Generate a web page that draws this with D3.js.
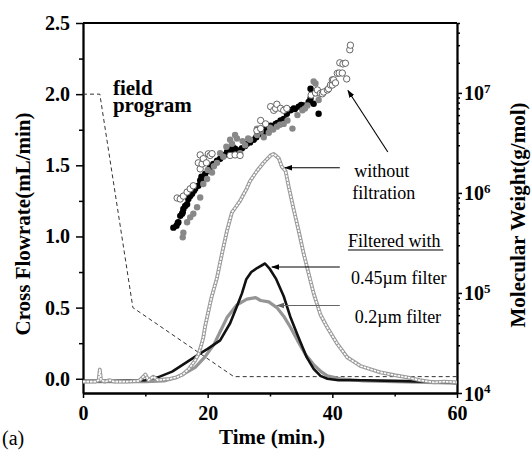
<!DOCTYPE html>
<html lang="en">
<head>
<meta charset="utf-8"/>
<script src="https://cdn.jsdelivr.net/npm/d3@7"></script>
<style>
  body { margin: 0; background: #fff; }
  svg text { font-family: "Liberation Serif", "Times New Roman", Times, serif; fill: #000; }
</style>
</head>
<body>
<svg id="chart" width="531" height="450"></svg>
<script>
// ---- data ----
const flowTicks = [0, 0.5, 1.0, 1.5, 2.0, 2.5];
const flowMinor = [0.25, 0.75, 1.25, 1.75, 2.25];
const timeTicks = [0, 20, 40, 60];
const timeMinor = [10, 30, 50];
const mwTicks = [1e4, 1e5, 1e6, 1e7];
const mwExp = ["4", "5", "6", "7"];

// field program (cross flow, dashed)
const fieldTime = [0, 2.7, 8, 24.2, 60];
const fieldFlow = [2.0, 2.0, 0.5, 0.015, 0.015];

// fractogram without filtration (open circle trace)
const rawTime = [0, 1, 2, 2.5, 2.7, 2.9, 3.5, 4.3, 5, 7, 9, 10, 10.5, 11.3, 12, 13, 14, 15, 16, 16.5, 17, 17.5, 18, 18.5, 19, 19.3, 19.6, 20, 20.6, 21.5, 22.3, 23.1, 23.9, 24.4, 25.2, 26.3, 26.8, 27.9, 29, 30.1, 30.6, 31.4, 31.9, 32.5, 33, 33.8, 34.6, 35.4, 36.2, 37, 38.1, 39.2, 40.8, 42.4, 44.5, 47.7, 50, 52, 54, 56.3, 58, 60];
const rawSignal = [-0.02, -0.02, -0.02, -0.01, 0.065, -0.01, -0.02, -0.01, -0.02, -0.02, -0.015, 0.03, -0.01, 0.015, -0.01, -0.005, 0.0, 0.01, 0.03, 0.05, 0.07, 0.1, 0.13, 0.17, 0.24, 0.29, 0.37, 0.45, 0.57, 0.71, 0.88, 1.04, 1.17, 1.2, 1.25, 1.34, 1.39, 1.46, 1.52, 1.57, 1.58, 1.55, 1.49, 1.46, 1.35, 1.19, 1.04, 0.88, 0.74, 0.6, 0.45, 0.36, 0.245, 0.15, 0.09, 0.045, 0.025, 0.01, -0.01, -0.025, -0.02, -0.025];

// 0.45 um filter (black line)
const f45Time = [0, 5, 10, 12, 14.3, 16.4, 18.5, 20, 22, 23.6, 24.7, 25.5, 26.2, 27, 28, 29.2, 30, 31, 32.2, 33.3, 34.4, 35.9, 37, 38.1, 39.2, 41, 45, 50, 55, 60];
const f45Signal = [-0.015, -0.015, -0.01, 0.01, 0.05, 0.11, 0.17, 0.21, 0.27, 0.39, 0.51, 0.6, 0.7, 0.75, 0.78, 0.81, 0.77, 0.7, 0.58, 0.43, 0.31, 0.15, 0.07, 0.02, 0.0, -0.01, -0.01, -0.015, -0.02, -0.03];

// 0.2 um filter (gray line)
const f02Time = [0, 5, 10, 13, 15, 16.4, 18, 19.5, 21, 22, 23.1, 24.7, 26.3, 27.7, 28.5, 29.8, 31.1, 32.2, 33.3, 34.4, 35.7, 37, 38.2, 39.2, 41.3, 45, 50, 55, 60];
const f02Signal = [-0.02, -0.02, -0.02, -0.015, 0.01, 0.04, 0.08, 0.15, 0.24, 0.33, 0.43, 0.52, 0.56, 0.57, 0.55, 0.54, 0.5, 0.44, 0.36, 0.27, 0.17, 0.1, 0.05, 0.02, 0.0, -0.015, -0.02, -0.025, -0.03];

// molecular weight points [time, g/mol]
const mwRaw = [[15.1,8.9e5],[15.6,8.7e5],[16.1,9.3e5],[16.7,1.02e6],[17.2,1.1e6],[17.7,1.18e6],[18.5,2.0e6],[18.8,1.74e6],[18.8,2.4e6],[19.1,1.95e6],[19.3,2.2e6],[19.8,2.0e6],[20.1,2.46e6],[20.4,2.37e6],[20.7,2.47e6],[23.6,2.37e6],[24.4,2.4e6],[25.2,2.37e6],[27.9,4.2e6],[28.5,4.4e6],[28.5,5.3e6],[29.3,4.9e6],[30.1,7.3e6],[30.6,6.7e6],[30.9,7.0e6],[31.1,7.7e6],[31.7,7.0e6],[32.2,6.7e6],[32.7,7.0e6],[36.6,9.5e6],[37.3,1.0e7],[37.6,1.07e7],[38.1,9.9e6],[38.4,9.8e6],[38.6,1.02e7],[39.2,1.07e7],[39.4,1.1e7],[39.7,1.2e7],[40.0,1.2e7],[40.0,1.35e7],[40.2,1.35e7],[40.5,1.26e7],[40.8,1.57e7],[41.1,1.58e7],[41.2,2.0e7],[41.6,1.58e7],[41.7,1.95e7],[42.3,1.38e7],[42.1,1.98e7],[42.8,2.7e7],[42.9,3.0e7]];
const mw45 = [[14.5,4.5e5],[15.0,4.7e5],[15.2,5.0e5],[15.3,5.1e5],[15.6,5.9e5],[15.9,6.2e5],[16.0,6.4e5],[16.1,6.9e5],[16.4,7.4e5],[16.7,7.7e5],[16.9,8.7e5],[17.2,9.3e5],[17.5,9.8e5],[17.8,1.05e6],[18.0,1.1e6],[18.5,1.18e6],[18.8,1.33e6],[19.0,1.45e6],[19.2,1.38e6],[19.6,1.55e6],[20.1,1.67e6],[20.4,1.81e6],[20.9,1.95e6],[21.0,1.9e6],[21.5,2.1e6],[22.0,2.2e6],[22.3,2.4e6],[22.6,2.37e6],[23.1,2.57e6],[23.9,2.7e6],[24.0,2.9e6],[24.4,2.77e6],[25.0,2.66e6],[25.5,2.8e6],[26.0,2.95e6],[26.3,3.1e6],[26.8,3.2e6],[27.4,3.4e6],[27.8,3.6e6],[28.5,3.9e6],[28.9,4.0e6],[29.3,4.3e6],[29.8,4.4e6],[30.1,4.7e6],[30.9,4.9e6],[31.2,5.0e6],[31.7,5.3e6],[32.2,5.5e6],[32.7,6.2e6],[33.3,6.7e6],[33.8,7.0e6],[34.0,6.9e6],[34.6,7.3e6],[35.0,7.6e6],[35.4,7.5e6],[36.2,8.1e6],[36.5,8.8e6],[36.8,9.9e6],[36.5,1.1e7],[37.0,7.8e6],[37.8,6.2e6]];
const mw02 = [[16.0,3.6e5],[16.1,4.0e5],[16.7,5.1e5],[17.2,5.7e5],[17.7,6.2e5],[18.3,7.2e5],[18.8,9.0e5],[19.3,1.23e6],[19.9,1.38e6],[20.0,1.7e6],[20.7,1.6e6],[21.0,1.85e6],[21.5,2.0e6],[22.0,2.5e6],[22.5,2.3e6],[23.0,2.9e6],[23.6,3.4e6],[23.9,3.1e6],[24.4,3.8e6],[24.7,3.5e6],[25.2,2.5e6],[25.6,3.3e6],[26.0,3.0e6],[26.5,3.5e6],[26.8,3.4e6],[27.9,3.8e6],[27.9,4.4e6],[28.5,4.1e6],[29.0,3.6e6],[29.8,4.0e6],[30.0,4.5e6],[30.5,4.3e6],[31.1,4.6e6],[31.6,4.8e6],[32.2,4.9e6],[32.8,5.3e6],[33.6,4.4e6],[34.4,6.0e6],[35.2,6.7e6],[35.6,7.0e6],[36.0,7.5e6],[37.0,1.3e7],[37.3,1.24e7],[37.6,9.9e6],[37.8,8.5e6]];

// annotations, in (time, flow) units
const arrows = [
  {from: [41.2, 1.483], to: [32.4, 1.483], color: "#000"},
  {from: [48.9, 1.594], to: [42.5, 2.026], color: "#000"},
  {from: [41.2, 0.785], to: [30.3, 0.785], color: "#000"},
  {from: [41.2, 0.515], to: [31.1, 0.515], color: "#666"}
];
const notes = [
  {t: 43.5, v: 1.421, text: "without"},
  {t: 43.2, v: 1.263, text: "filtration"},
  {t: 42.5, v: 0.926, text: "Filtered with", underline: 57.8},
  {t: 43.0, v: 0.666, text: "0.45\u00b5m filter"},
  {t: 43.6, v: 0.392, text: "0.2\u00b5m filter"}
];

// ---- chart ----
const svg = d3.select("#chart");

const x = d3.scaleLinear().domain([0, 60]).range([83, 457]);
const y = d3.scaleLinear().domain([-0.1, 2.5]).range([393, 23]);
const yMW = d3.scaleLog().domain([1e4, 5e7]).range([393, 23]);

const zip = (a, b) => a.map((d, i) => [d, b[i]]);
const line = d3.line().x(d => x(d[0])).y(d => y(d[1]));

function styleAxis(g) {
  g.attr("font-family", "Liberation Serif, Times, serif").attr("font-size", 20).attr("font-weight", "bold");
  g.select(".domain").attr("stroke-width", 1.8);
  g.selectAll(".tick line").attr("stroke-width", 1.5);
}

// axes
svg.append("g").attr("transform", "translate(83,0)")
  .call(d3.axisLeft(y).tickValues(flowTicks).tickFormat(d3.format(".1f")).tickSize(7).tickPadding(6).tickSizeOuter(0))
  .call(styleAxis);
svg.append("g").attr("transform", "translate(83,0)")
  .call(d3.axisLeft(y).tickValues(flowMinor).tickFormat("").tickSize(4).tickSizeOuter(0))
  .call(styleAxis);

svg.append("g").attr("transform", "translate(0,393)")
  .call(d3.axisBottom(x).tickValues(timeTicks).tickSize(5).tickPadding(8).tickSizeOuter(0))
  .call(styleAxis);
svg.append("g").attr("transform", "translate(0,393)")
  .call(d3.axisBottom(x).tickValues(timeMinor).tickFormat("").tickSize(3.5).tickSizeOuter(0))
  .call(styleAxis);

const mwMinor = mwTicks.flatMap(d => [2, 3, 4, 5, 6, 7, 8, 9].map(k => k * d)).filter(v => v <= 5e7);
const rAxis = svg.append("g").attr("transform", "translate(457,0)")
  .call(d3.axisRight(yMW).tickValues(mwTicks).tickFormat("").tickSize(5).tickSizeOuter(0))
  .call(styleAxis);
svg.append("g").attr("transform", "translate(457,0)")
  .call(d3.axisRight(yMW).tickValues(mwMinor).tickFormat("").tickSize(3).tickSizeOuter(0))
  .call(styleAxis);
rAxis.selectAll(".tick").each(function(d, i) {
  const t = d3.select(this).select("text").attr("x", 7).attr("dy", "0.35em");
  t.append("tspan").text("10");
  t.append("tspan").attr("dy", "-0.55em").attr("font-size", 13).text(mwExp[i]);
});

// top frame
svg.append("line")
  .attr("x1", x(0)).attr("x2", x(60)).attr("y1", y(2.5)).attr("y2", y(2.5))
  .attr("stroke", "#000").attr("stroke-width", 1.8);

// field program
svg.append("path").datum(zip(fieldTime, fieldFlow))
  .attr("d", line).attr("fill", "none").attr("stroke", "#333")
  .attr("stroke-width", 1).attr("stroke-dasharray", "4,3");

// fractograms
svg.append("path").datum(zip(f02Time, f02Signal))
  .attr("d", line).attr("fill", "none").attr("stroke", "#959595").attr("stroke-width", 3.2)
  .attr("stroke-linejoin", "round");
svg.append("path").datum(zip(f45Time, f45Signal))
  .attr("d", line).attr("fill", "none").attr("stroke", "#111").attr("stroke-width", 2.6)
  .attr("stroke-linejoin", "round");
const rawData = zip(rawTime, rawSignal);
svg.append("path").datum(rawData)
  .attr("d", line).attr("fill", "none").attr("stroke", "#9a9a9a").attr("stroke-width", 3.8)
  .attr("stroke-linejoin", "round");
svg.append("path").datum(rawData)
  .attr("d", line).attr("fill", "none").attr("stroke", "#fff").attr("stroke-width", 1.6)
  .attr("stroke-linejoin", "round").attr("stroke-dasharray", "2.5,1");

// molecular weight scatter
function dots(data, fill, stroke) {
  svg.append("g").selectAll("circle").data(data).join("circle")
    .attr("cx", d => x(d[0])).attr("cy", d => yMW(d[1])).attr("r", 3.2)
    .attr("fill", fill).attr("stroke", stroke).attr("stroke-width", 0.9);
}
dots(mw45, "#000", "none");
dots(mw02, "#888", "none");
dots(mwRaw, "#fff", "#555");

// arrows
const defs = svg.append("defs");
arrows.forEach((a, i) => {
  defs.append("marker").attr("id", "ah" + i)
    .attr("viewBox", "0 0 10 10").attr("refX", 9).attr("refY", 5)
    .attr("markerWidth", 8).attr("markerHeight", 8).attr("orient", "auto")
    .attr("markerUnits", "userSpaceOnUse")
    .append("path").attr("d", "M0,1.5L10,5L0,8.5Z").attr("fill", a.color);
  svg.append("line")
    .attr("x1", x(a.from[0])).attr("y1", y(a.from[1]))
    .attr("x2", x(a.to[0])).attr("y2", y(a.to[1]))
    .attr("stroke", a.color).attr("stroke-width", 1.1)
    .attr("marker-end", "url(#ah" + i + ")");
});

notes.forEach(n => {
  svg.append("text").attr("x", x(n.t)).attr("y", y(n.v))
    .attr("font-size", 18).text(n.text);
  if (n.underline) {
    svg.append("line").attr("x1", x(n.t)).attr("x2", x(n.underline))
      .attr("y1", y(n.v) + 3).attr("y2", y(n.v) + 3)
      .attr("stroke", "#000").attr("stroke-width", 1);
  }
});

// field program label
svg.append("text").attr("x", x(4.8)).attr("y", y(1.994))
  .attr("font-size", 21).attr("font-weight", "bold").text("field");
svg.append("text").attr("x", x(4.8)).attr("y", y(1.878))
  .attr("font-size", 21).attr("font-weight", "bold").text("program");

// axis titles
svg.append("text").attr("text-anchor", "middle")
  .attr("transform", "translate(30,224) rotate(-90)")
  .attr("font-size", 21).attr("font-weight", "bold").text("Cross Flowrate(mL/min)");
svg.append("text").attr("text-anchor", "middle")
  .attr("transform", "translate(525,215) rotate(-90)")
  .attr("font-size", 21).attr("font-weight", "bold").text("Molecular Weight(g/mol)");
svg.append("text").attr("text-anchor", "middle").attr("x", 272).attr("y", 444)
  .attr("font-size", 21).attr("font-weight", "bold").text("Time (min.)");
svg.append("text").attr("x", 2).attr("y", 445)
  .attr("font-size", 20).text("(a)");
</script>
</body>
</html>
